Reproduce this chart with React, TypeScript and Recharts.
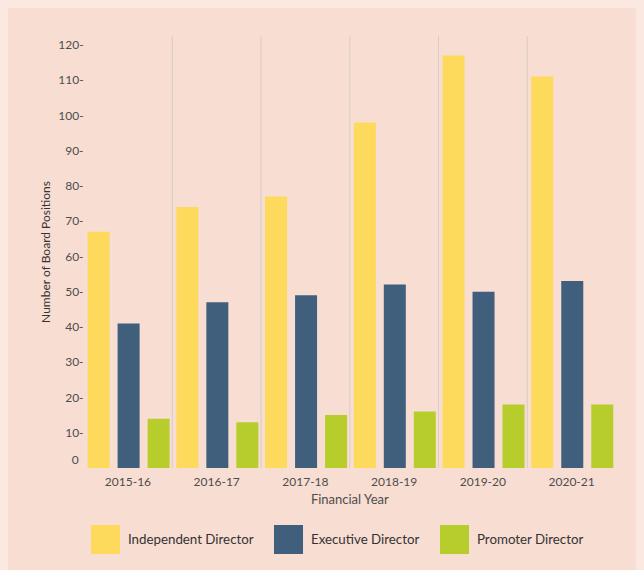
import React from 'react';
import { BarChart, Bar, XAxis, YAxis, CartesianGrid, Legend } from 'recharts';

const years = ['2015-16', '2016-17', '2017-18', '2018-19', '2019-20', '2020-21'];
const independent = [67, 74, 77, 98, 117, 111];
const executive = [41, 47, 49, 52, 50, 53];
const promoter = [14, 13, 15, 16, 18, 18];
const yTicks = [0, 10, 20, 30, 40, 50, 60, 70, 80, 90, 100, 110, 120];

const series = [
  { key: 'independent', name: 'Independent Director', color: '#fdd95c', slot: 183 },
  { key: 'executive', name: 'Executive Director', color: '#3f5f7c', slot: 166 },
  { key: 'promoter', name: 'Promoter Director', color: '#b7cd2c', slot: 160 },
];

const data = years.map((year, i) => ({
  year,
  independent: independent[i],
  executive: executive[i],
  promoter: promoter[i],
}));

const FONT = 'Lato, "Open Sans", sans-serif';

// y ticks carry a trailing dash; the zero label sits a little higher, without it
const YTick = ({ x, y, payload }: any) => {
  const isZero = payload.value === 0;
  return (
    <text
      x={isZero ? x - 5 : x}
      y={isZero ? y - 8 : y}
      dy="0.35em"
      textAnchor="end"
      fontSize={12}
      fontFamily={FONT}
      fill="#4d4d4d"
    >
      {isZero ? '0' : `${payload.value}-`}
    </text>
  );
};

// separators between the year groups rather than through their centres
const bandEdges = ({ offset }: any) => {
  const step = offset.width / years.length;
  return years.slice(1).map((_, i) => offset.left + step * (i + 1));
};

const LegendBox = () => (
  <div
    style={{
      display: 'flex',
      alignItems: 'center',
      height: 62,
      paddingLeft: 83,
      fontFamily: FONT,
      fontSize: 13.3,
      color: '#333',
      whiteSpace: 'nowrap',
    }}
  >
    {series.map((s) => (
      <div
        key={s.key}
        style={{ display: 'flex', alignItems: 'center', width: s.slot, flexShrink: 0 }}
      >
        <span style={{ width: 29, height: 29, background: s.color, marginRight: 8, flexShrink: 0 }} />
        <span>{s.name}</span>
      </div>
    ))}
  </div>
);

export default function App() {
  return (
    <div style={{ background: '#f8ddd2', width: 636, height: 562 }}>
      <style>{`body { background: #fbe8e0; }`}</style>
      <BarChart
        width={636}
        height={562}
        data={data}
        margin={{ top: 28, right: 28, bottom: 0, left: 0 }}
        barCategoryGap={4}
        barGap={8}
      >
        <CartesianGrid
          horizontal={false}
          stroke="#d8cdc8"
          verticalCoordinatesGenerator={bandEdges}
        />
        <XAxis
          dataKey="year"
          height={40}
          axisLine={false}
          tickLine={false}
          tickSize={0}
          tickMargin={9}
          tick={{ fontSize: 12, fontFamily: FONT, fill: '#4d4d4d' }}
          label={{
            value: 'Financial Year',
            position: 'insideBottom',
            offset: 4,
            fontSize: 13,
            fontFamily: FONT,
            fill: '#4d4d4d',
          }}
        />
        <YAxis
          width={75.6}
          domain={[0, 122.5]}
          ticks={yTicks}
          axisLine={false}
          tickLine={false}
          tickSize={0}
          tickMargin={0}
          tick={<YTick />}
          label={{
            value: 'Number of Board Positions',
            angle: -90,
            position: 'center',
            fontSize: 12,
            fontFamily: FONT,
            fill: '#333',
          }}
        />
        <Legend
          verticalAlign="bottom"
          height={62}
          content={<LegendBox />}
          wrapperStyle={{ left: 0, width: 636 }}
        />
        {series.map((s) => (
          <Bar
            key={s.key}
            dataKey={s.key}
            name={s.name}
            fill={s.color}
            isAnimationActive={false}
          />
        ))}
      </BarChart>
    </div>
  );
}
